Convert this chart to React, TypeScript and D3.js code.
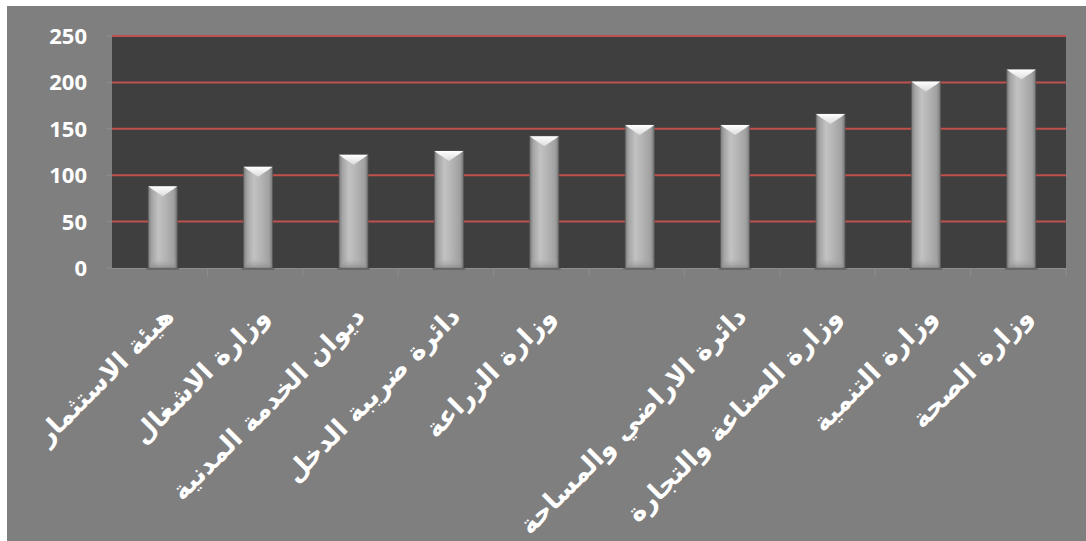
import React from "react";
import * as d3 from "d3";

const categories: string[] = [
  "هيئة الاستثمار",
  "وزارة الاشغال",
  "ديوان الخدمة المدنية",
  "دائرة ضريبة الدخل",
  "وزارة الزراعة",
  "",
  "دائرة الاراضي والمساحة",
  "وزارة الصناعة والتجارة",
  "وزارة التنمية",
  "وزارة الصحة",
];
const values: number[] = [88, 109, 122, 126, 142, 154, 154, 166, 201, 214];
const yTicks: number[] = [0, 50, 100, 150, 200, 250];

const W = 1086;
const H = 541;
const plot = { left: 112, right: 1066, top: 36, bottom: 268 };

export default function App() {
  const ids = categories.map((_, i) => `c${i}`);
  const x = d3.scaleBand<string>().domain(ids).range([plot.left, plot.right]).padding(0);
  const y = d3.scaleLinear().domain([0, 250]).range([plot.bottom, plot.top]);
  const barW = 29;
  const offset = 3;

  return (
    <div style={{ position: "absolute", left: 0, top: 0 }}>
      <svg width={W} height={H} style={{ display: "block" }}>
        <defs>
          <linearGradient id="barG" x1="0" x2="1" y1="0" y2="0">
            <stop offset="0" stopColor="#7c7c7c" />
            <stop offset="0.12" stopColor="#a4a4a4" />
            <stop offset="0.35" stopColor="#c2c2c2" />
            <stop offset="0.6" stopColor="#b4b4b4" />
            <stop offset="0.88" stopColor="#a0a0a0" />
            <stop offset="1" stopColor="#767676" />
          </linearGradient>
          <linearGradient id="topG" x1="0" x2="0" y1="0" y2="1">
            <stop offset="0" stopColor="#ffffff" />
            <stop offset="1" stopColor="#dcdcdc" />
          </linearGradient>
          <linearGradient id="botG" x1="0" x2="0" y1="0" y2="1">
            <stop offset="0" stopColor="#b0b0b0" stopOpacity="0" />
            <stop offset="1" stopColor="#8a8a8a" stopOpacity="0.8" />
          </linearGradient>
        </defs>
        <rect x={0} y={0} width={W} height={H} fill="#ffffff" />
        <rect x={7} y={6} width={W - 7} height={H - 6} fill="#7f7f7f" />
        <rect
          x={plot.left}
          y={plot.top}
          width={plot.right - plot.left}
          height={plot.bottom - plot.top}
          fill="#3f3f3f"
        />
        {yTicks.map((t) => (
          <g key={t}>
            <line x1={plot.left - 6} x2={plot.left} y1={y(t)} y2={y(t)} stroke="#8e8e8e" strokeWidth={1} />
            {t > 0 && (
              <line x1={plot.left} x2={plot.right} y1={y(t)} y2={y(t)} stroke="#c0504d" strokeWidth={2} />
            )}
            <text
              x={87}
              y={y(t)}
              dy="0.36em"
              textAnchor="end"
              fill="#ffffff"
              fontFamily="'Open Sans', sans-serif"
              fontWeight="bold"
              fontSize={22}
            >
              {t}
            </text>
          </g>
        ))}
        <line x1={plot.left} x2={plot.right} y1={plot.bottom + 0.5} y2={plot.bottom + 0.5} stroke="#8e8e8e" strokeWidth={1} />
        {ids.map((id, i) =>
          i === 0 ? null : (
            <line
              key={id}
              x1={x(id)!}
              x2={x(id)!}
              y1={plot.bottom}
              y2={plot.bottom + 8}
              stroke="#8e8e8e"
              strokeWidth={1}
            />
          )
        )}
        <line x1={plot.right} x2={plot.right} y1={plot.bottom} y2={plot.bottom + 8} stroke="#8e8e8e" />
        {values.map((v, i) => {
          const cx = x(ids[i])! + x.bandwidth() / 2 + offset;
          const x0 = cx - barW / 2;
          const x1 = cx + barW / 2;
          const yt = y(v);
          const yb = y(0);
          return (
            <g key={i}>
              <rect x={x0} y={yt} width={barW} height={yb - yt} fill="url(#barG)" stroke="#5a5a5a" strokeWidth={0.8} />
              <rect x={x0 + 2} y={yb - 10} width={barW - 4} height={10} fill="url(#botG)" />
              <polygon
                points={`${x0},${yt} ${x1},${yt} ${x1 - 4},${yt + 3} ${cx},${yt + 10} ${x0 + 4},${yt + 3}`}
                fill="url(#topG)"
              />
              <line x1={x0 - 2} x2={x1 + 2} y1={yb + 1} y2={yb + 1} stroke="#555" strokeWidth={1} />
            </g>
          );
        })}
        {categories.map((c, i) => {
          const cx = x(ids[i])! + x.bandwidth() / 2 + offset;
          const ax = cx - 1;
          const ay = 304;
          return (
            <text
              key={i}
              x={ax}
              y={ay}
              transform={`rotate(-45 ${ax} ${ay})`}
              textAnchor="end"
              dy="0.75em"
              fill="#ffffff"
              fontFamily="'DejaVu Sans', sans-serif"
              fontWeight="bold"
              fontSize={26}
            >
              {c}
            </text>
          );
        })}
      </svg>
    </div>
  );
}
